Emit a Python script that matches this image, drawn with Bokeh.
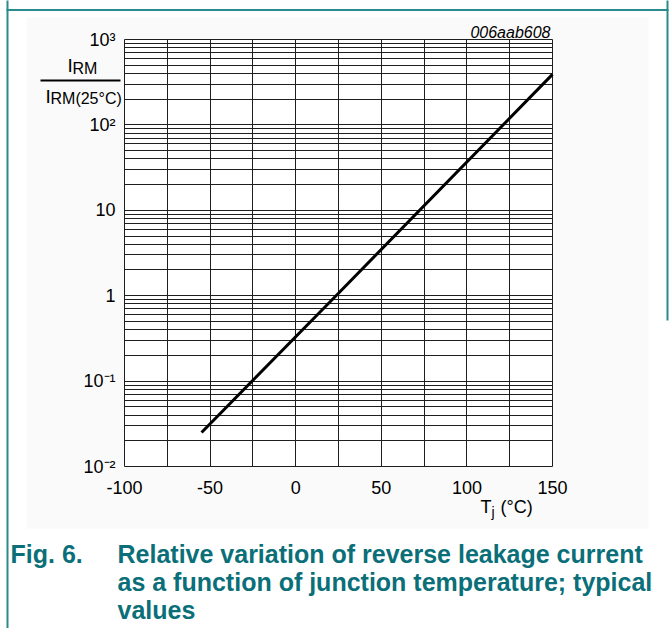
from bokeh.plotting import figure
from bokeh.models import Label, BoxAnnotation, FixedTicker, Range1d
from bokeh.embed import file_html
from bokeh.resources import INLINE

# ---- data ----
tj = [-55, 25, 150]
irm_ratio = [0.025, 1.07, 390]
x_ticks = [-100, -50, 0, 50, 100, 150]
x_tick_labels = ["-100", "-50", "0", "50", "100", "150"]
x_minor = [-75, -25, 25, 75, 125]
y_ticks = [0.01, 0.1, 1, 10, 100, 1000]
y_tick_labels = ["10\u207b\u00b2", "10\u207b\u00b9", "1", "10", "10\u00b2", "10\u00b3"]
caption_lines = ["Relative variation of reverse leakage current",
                 "as a function of junction temperature; typical",
                 "values"]

W, H = 670, 628
# pixel box of the plotting area inside the canvas
FL, FR, FT, FB = 124, 552, 39, 466
XMIN, XMAX = -100, 150
YMIN_EXP, YMAX_EXP = -2, 3

def dx(px):
    return XMIN + (px - FL) * (XMAX - XMIN) / (FR - FL)

def dy(py):
    return 10 ** (YMIN_EXP + (FB - py) * (YMAX_EXP - YMIN_EXP) / (FB - FT))

FONT = "Liberation Sans"
TEAL_LINE = "#2a8a8c"
TEAL_TEXT = "#0a6f78"

p = figure(width=W, height=H, x_range=Range1d(dx(0), dx(W)),
           y_range=Range1d(dy(H), dy(0)), y_axis_type="log",
           output_backend="svg", toolbar_location=None,
           min_border=0, min_border_left=0, min_border_right=0,
           min_border_top=0, min_border_bottom=0)
p.title.visible = False
p.outline_line_color = None
p.background_fill_color = "white"
p.border_fill_color = "white"

p.xaxis.ticker = FixedTicker(ticks=x_ticks, minor_ticks=x_minor)
p.xaxis.major_label_overrides = dict(zip(x_ticks, x_tick_labels))
ymin = [m * 10 ** k for k in range(YMIN_EXP, YMAX_EXP) for m in range(2, 10)]
p.yaxis.ticker = FixedTicker(ticks=y_ticks, minor_ticks=ymin)
p.yaxis.major_label_overrides = dict(zip(y_ticks, y_tick_labels))
p.xaxis.fixed_location = 10 ** YMIN_EXP
p.yaxis.fixed_location = XMIN
p.xaxis.bounds = (XMIN, XMAX)
p.yaxis.bounds = (10 ** YMIN_EXP, 10 ** YMAX_EXP)

for ax in (p.xaxis[0], p.yaxis[0]):
    ax.axis_line_color = None
    ax.major_tick_line_color = None
    ax.minor_tick_line_color = None
    ax.major_tick_out = 0
    ax.major_tick_in = 0
    ax.minor_tick_out = 0
    ax.minor_tick_in = 0
    ax.major_label_text_font = FONT
    ax.major_label_text_font_size = "18px"
    ax.major_label_text_color = "black"
p.xaxis.major_label_standoff = 14
p.yaxis.major_label_standoff = 9

GRID_COLOR = "#1e1e1e"
use_segments = False
try:
    p.xgrid[0].cross_bounds = (10 ** YMIN_EXP, 10 ** YMAX_EXP)
    p.ygrid[0].cross_bounds = (XMIN, XMAX)
    p.xgrid[0].bounds = (XMIN, XMAX)
    p.ygrid[0].bounds = (10 ** YMIN_EXP, 10 ** YMAX_EXP)
except AttributeError:
    use_segments = True

if use_segments:
    for g in (p.xgrid[0], p.ygrid[0]):
        g.visible = False
    xs_all = sorted(x_ticks + x_minor)
    ys_all = sorted(y_ticks + ymin)
    p.segment(x0=xs_all, y0=[10 ** YMIN_EXP] * len(xs_all), x1=xs_all,
              y1=[10 ** YMAX_EXP] * len(xs_all), line_color=GRID_COLOR, line_width=1)
    p.segment(x0=[XMIN] * len(ys_all), y0=ys_all, x1=[XMAX] * len(ys_all),
              y1=ys_all, line_color=GRID_COLOR, line_width=1)
else:
    for g in (p.xgrid[0], p.ygrid[0]):
        g.grid_line_color = GRID_COLOR
        g.grid_line_width = 1
        g.grid_line_alpha = 1
        g.minor_grid_line_color = GRID_COLOR
        g.minor_grid_line_width = 1
        g.minor_grid_line_alpha = 1

p.line(tj, irm_ratio, line_color="black", line_width=3)

# ---- decorations ----
def box(x0, x1, y0, y1, color, level="overlay"):
    p.add_layout(BoxAnnotation(left=dx(x0), right=dx(x1), top=dy(y0), bottom=dy(y1),
                               fill_color=color, fill_alpha=1, line_color=None,
                               level=level))

# faint page background with a white plotting area
box(26, 648, 17, 528, "#fafafa", level="image")
box(FL, FR, FT, FB, "white", level="image")
box(6, 8, -10, 640, TEAL_LINE)
box(6, 668, 8.5, 10.5, TEAL_LINE)
box(666, 668, -10, 320, TEAL_LINE)
# fraction bar
box(40, 120, 79, 81, "black")

def label(px, py, text, size, align="left", style="normal", color="black"):
    # py is the wanted baseline; Bokeh's alphabetic baseline lands ~0.26em lower
    p.add_layout(Label(x=dx(px), y=dy(py - 0.26 * size), text=text, text_font=FONT,
                       text_font_size=f"{size}px", text_align=align,
                       text_baseline="alphabetic",
                       text_font_style=style, text_color=color))

# y axis title (fraction)
label(67, 70, "I", 19)
label(72, 72.5, "RM", 16)
label(45, 100.5, "I", 19)
label(50, 102.5, "RM(25\u00b0C)", 16)

# x axis title
label(480, 511, "T", 18)
label(491, 515, "j", 14)
label(500, 511, "(\u00b0C)", 18)

# figure code
label(550, 36, "006aab608", 16, align="right", style="italic")

# caption
label(10, 560, "Fig. 6.", 25, style="bold", color=TEAL_TEXT)
for i, t in enumerate(caption_lines):
    label(117, 560 + 28 * i, t, 25, style="bold", color=TEAL_TEXT)

open("out.html", "w").write(file_html(p, INLINE))
